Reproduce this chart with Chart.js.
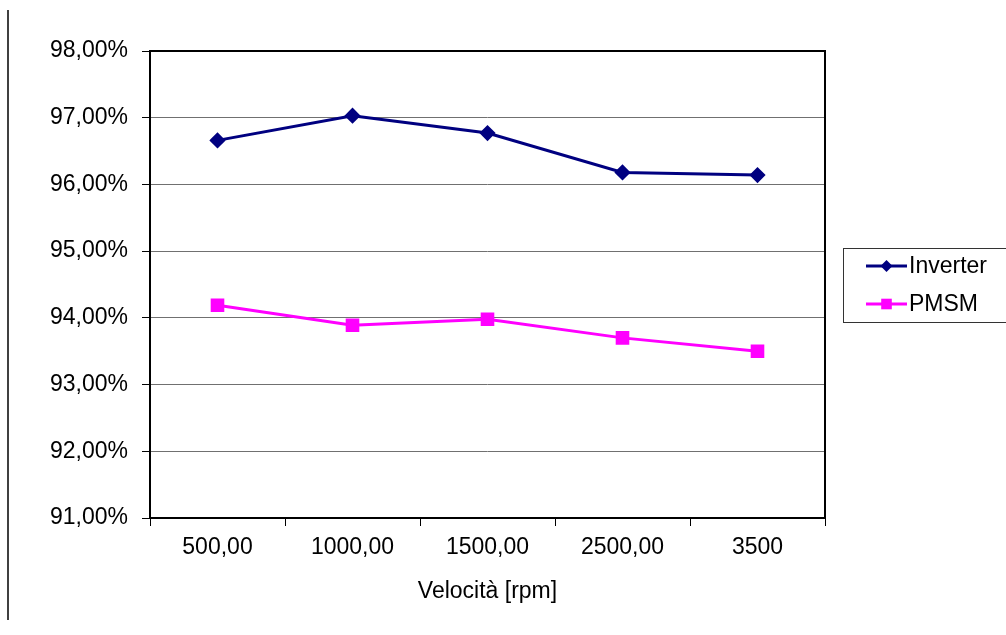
<!DOCTYPE html>
<html>
<head>
<meta charset="utf-8">
<script src="https://cdn.jsdelivr.net/npm/chart.js@4"></script>
<style>
  html, body { margin: 0; padding: 0; background: #fff; }
  #wrap { width: 1006px; height: 635px; position: relative; }
</style>
</head>
<body>
<div id="wrap"><canvas id="effChart" width="1006" height="635"></canvas></div>
<script>
const speeds = ['500,00', '1000,00', '1500,00', '2500,00', '3500'];
const inverter = [96.66, 97.03, 96.77, 96.18, 96.14];
const pmsm = [94.19, 93.89, 93.98, 93.70, 93.50];
const yMin = 91, yMax = 98;

const fmtPct = v => v.toFixed(2).replace('.', ',') + '%';
const FONT = 'Liberation Sans';

// frame around the plot, the left rule and the boxed legend
const extras = {
    id: 'extras',
    beforeDatasetsDraw(chart) {
        const { ctx, chartArea: a } = chart;
        ctx.save();
        ctx.strokeStyle = '#000';
        ctx.lineWidth = 2;
        ctx.strokeRect(a.left, a.top, a.right - a.left, a.bottom - a.top);
        ctx.restore();
    },
    afterDraw(chart) {
        const ctx = chart.ctx;
        ctx.save();
        ctx.strokeStyle = '#000';
        ctx.lineWidth = 1.5;
        ctx.beginPath();
        ctx.moveTo(8, 10);
        ctx.lineTo(8, 620);
        ctx.stroke();

        ctx.strokeStyle = '#333';
        ctx.lineWidth = 1;
        ctx.strokeRect(843.5, 248.5, 180, 74);

        const items = [
            { label: 'Inverter', color: '#000080', style: 'rectRot', r: 6, y: 266 },
            { label: 'PMSM', color: '#FF00FF', style: 'rect', r: 7.5, y: 304 }
        ];
        ctx.font = '23px "' + FONT + '", Arial, sans-serif';
        ctx.textBaseline = 'middle';
        items.forEach(it => {
            ctx.strokeStyle = it.color;
            ctx.lineWidth = 3;
            ctx.beginPath();
            ctx.moveTo(866, it.y);
            ctx.lineTo(907, it.y);
            ctx.stroke();
            ctx.fillStyle = it.color;
            Chart.helpers.drawPoint(ctx, { pointStyle: it.style, radius: it.r, borderWidth: 0 }, 886.5, it.y);
            ctx.fillStyle = '#000';
            ctx.fillText(it.label, 909, it.y + 1);
        });
        ctx.restore();
    }
};

new Chart(document.getElementById('effChart').getContext('2d'), {
    type: 'line',
    data: {
        labels: speeds,
        datasets: [{
            label: 'Inverter',
            data: inverter,
            borderColor: '#000080',
            backgroundColor: '#000080',
            borderWidth: 3,
            pointStyle: 'rectRot',
            pointRadius: 6,
            pointHoverRadius: 6,
            tension: 0
        }, {
            label: 'PMSM',
            data: pmsm,
            borderColor: '#FF00FF',
            backgroundColor: '#FF00FF',
            borderWidth: 3,
            pointStyle: 'rect',
            pointRadius: 7.5,
            pointHoverRadius: 7.5,
            tension: 0
        }]
    },
    options: {
        responsive: false,
        animation: false,
        layout: { padding: { left: 10, right: 181, top: 51, bottom: 30 } },
        plugins: { legend: { display: false }, tooltip: { enabled: false } },
        scales: {
            x: {
                offset: true,
                grid: { drawOnChartArea: false, offset: true, tickLength: 8, color: '#000', lineWidth: 1 },
                border: { display: false },
                ticks: { color: '#000', padding: 8, font: { family: FONT, size: 23 } },
                title: { display: true, text: 'Velocità [rpm]', color: '#000', padding: 0, font: { family: FONT, size: 23 } },
                afterFit: s => { s.height = 87; }
            },
            y: {
                min: yMin,
                max: yMax,
                grid: { color: '#707070', lineWidth: 1, tickLength: 8, tickColor: '#000' },
                border: { display: false },
                ticks: {
                    stepSize: 1,
                    color: '#000',
                    padding: 14,
                    font: { family: FONT, size: 23 },
                    callback: v => fmtPct(v)
                },
                afterFit: s => { s.width = 140; }
            }
        }
    },
    plugins: [extras]
});
</script>
</body>
</html>
